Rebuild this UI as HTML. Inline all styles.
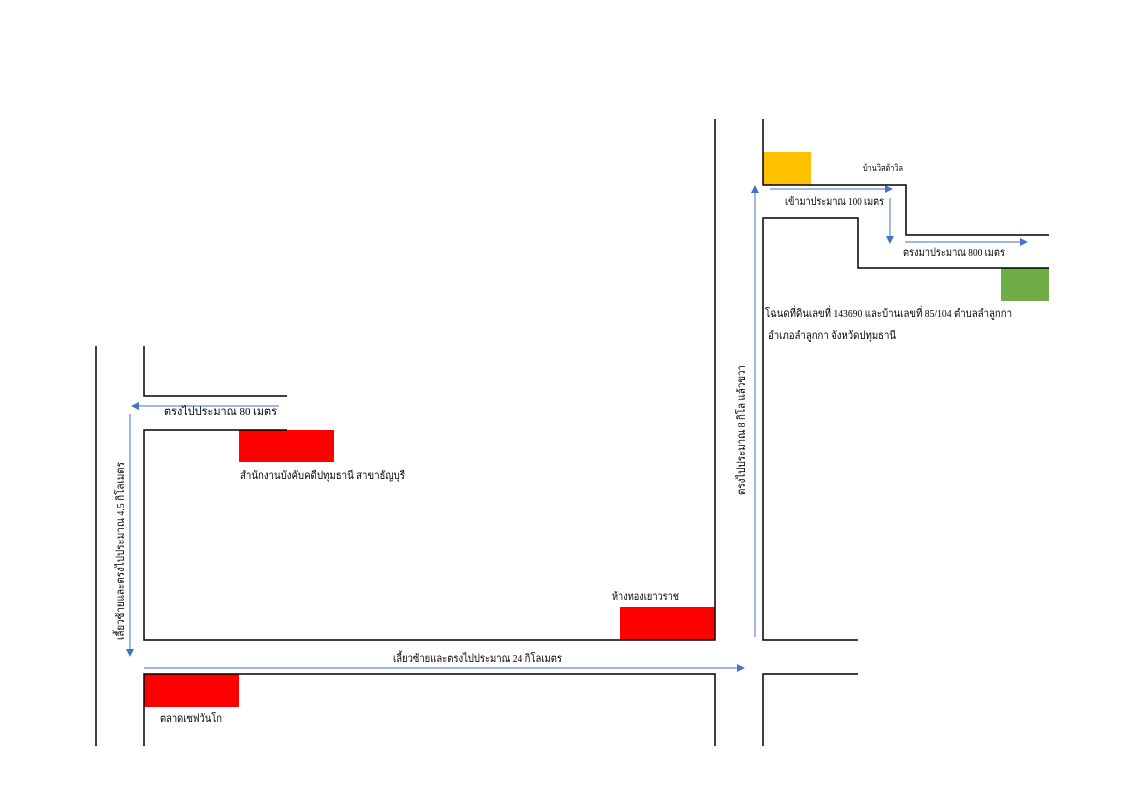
<!DOCTYPE html>
<html><head><meta charset="utf-8"><style>
html,body{margin:0;padding:0;background:#fff;}
svg{display:block;}
text{font-family:"Liberation Serif","DejaVu Serif",serif;fill:#000;}
</style></head><body>
<svg width="1131" height="800" viewBox="0 0 1131 800" xmlns="http://www.w3.org/2000/svg">
<defs>
<marker id="a" markerWidth="8" markerHeight="8" refX="7" refY="4" orient="auto" markerUnits="userSpaceOnUse">
<path d="M0,0 L8,4 L0,8 z" fill="#4472C4"/></marker>
</defs>
<rect x="763" y="152" width="48" height="33" fill="#FFC000"/>
<rect x="1001" y="268" width="48" height="33" fill="#70AD47"/>
<rect x="239" y="430" width="95" height="32" fill="#FF0000"/>
<rect x="620" y="607" width="95" height="33" fill="#FF0000"/>
<rect x="144" y="674" width="95" height="33" fill="#FF0000"/>
<g stroke="#000" stroke-width="1.5" fill="none">
<path d="M96,346 V746"/>
<path d="M144,346 V396 H287"/>
<path d="M287,430 H144 V640 H715 V119"/>
<path d="M144,746 V674 H715 V746"/>
<path d="M763,119 V185 H906 V235 H1049"/>
<path d="M1049,268 H858 V218 H763 V640 H858"/>
<path d="M763,746 V674 H858"/>
</g>
<g stroke="#4472C4" stroke-width="1" fill="none" marker-end="url(#a)">
<path d="M279,406 H132"/>
<path d="M130,414 V656"/>
<path d="M144,668 H744"/>
<path d="M755,637 V186"/>
<path d="M770,189 H892"/>
<path d="M890,198 V243"/>
<path d="M905,242 H1027"/>
</g>
<g lengthAdjust="spacingAndGlyphs">
<text x="863" y="171" font-size="9" textLength="40" lengthAdjust="spacingAndGlyphs">บ้านวิสต้าวิล</text>
<text x="785" y="205" font-size="11" textLength="99" lengthAdjust="spacingAndGlyphs">เข้ามาประมาณ 100 เมตร</text>
<text x="903" y="256" font-size="11" textLength="102" lengthAdjust="spacingAndGlyphs">ตรงมาประมาณ 800 เมตร</text>
<text x="765" y="317" font-size="11" textLength="247" lengthAdjust="spacingAndGlyphs">โฉนดที่ดินเลขที่ 143690 และบ้านเลขที่ 85/104 ตำบลลำลูกกา</text>
<text x="768" y="339" font-size="11" textLength="128" lengthAdjust="spacingAndGlyphs">อำเภอลำลูกกา  จังหวัดปทุมธานี</text>
<text transform="translate(745,430) rotate(-90)" x="-65" y="0" font-size="11" textLength="130" lengthAdjust="spacingAndGlyphs">ตรงไปประมาณ 8 กิโล แล้วขวา</text>
<text x="164" y="415" font-size="11" textLength="113" lengthAdjust="spacingAndGlyphs">ตรงไปประมาณ 80 เมตร</text>
<text x="240" y="479" font-size="11" textLength="165" lengthAdjust="spacingAndGlyphs">สำนักงานบังคับคดีปทุมธานี สาขาธัญบุรี</text>
<text transform="translate(124,551) rotate(-90)" x="-89" y="0" font-size="11" textLength="178" lengthAdjust="spacingAndGlyphs">เลี้ยวซ้ายและตรงไปประมาณ 4.5 กิโลเมตร</text>
<text x="612" y="600" font-size="11" textLength="67" lengthAdjust="spacingAndGlyphs">ห้างทองเยาวราช</text>
<text x="393" y="662" font-size="11" textLength="169" lengthAdjust="spacingAndGlyphs">เลี้ยวซ้ายและตรงไปประมาณ 24 กิโลเมตร</text>
<text x="160" y="722" font-size="11" textLength="62" lengthAdjust="spacingAndGlyphs">ตลาดเซฟวันโก</text>
</g>
</svg>
</body></html>
